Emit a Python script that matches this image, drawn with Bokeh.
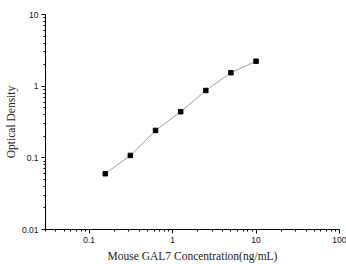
from bokeh.plotting import figure
from bokeh.models import FixedTicker, Range1d
from bokeh.embed import file_html
from bokeh.resources import INLINE

# data
conc = [0.156, 0.312, 0.625, 1.25, 2.5, 5, 10]
od = [0.060, 0.108, 0.241, 0.44, 0.87, 1.54, 2.23]

x_ticks = [0.1, 1, 10, 100]
x_labels = ["0.1", "1", "10", "100"]
y_ticks = [0.01, 0.1, 1, 10]
y_labels = ["0.01", "0.1", "1", "10"]

x_title = "Mouse GAL7 Concentration(ng/mL)"
y_title = "Optical Density"

def minors(lo_exp, hi_exp):
    return [m * 10.0 ** e for e in range(lo_exp, hi_exp) for m in range(2, 10)]

p = figure(width=346, height=264, x_axis_type="log", y_axis_type="log",
           x_range=Range1d(0.03, 100), y_range=Range1d(0.01, 10),
           output_backend="svg", toolbar_location=None,
           min_border_left=45, min_border_right=7, min_border_top=14,
           min_border_bottom=35)
p.outline_line_color = None
p.xgrid.visible = False
p.ygrid.visible = False
p.background_fill_color = "white"
p.border_fill_color = "white"

p.line(conc, od, line_color="#a0a0a0", line_width=1)
p.scatter(conc, od, marker="square", size=4.5, fill_color="black", line_color="black")

p.xaxis.ticker = FixedTicker(ticks=x_ticks, minor_ticks=minors(-2, 2))
p.yaxis.ticker = FixedTicker(ticks=y_ticks, minor_ticks=minors(-2, 1))
p.xaxis.major_label_overrides = {t: l for t, l in zip(x_ticks, x_labels)}
p.yaxis.major_label_overrides = {t: l for t, l in zip(y_ticks, y_labels)}

for ax in (p.xaxis, p.yaxis):
    ax.axis_line_color = "black"
    ax.axis_line_width = 1
    ax.major_tick_line_color = "black"
    ax.minor_tick_line_color = "black"
    ax.major_tick_in = 0
    ax.major_tick_out = 4
    ax.minor_tick_in = 0
    ax.minor_tick_out = 2
    ax.major_label_text_font = "Liberation Sans"
    ax.major_label_text_font_size = "8.5px"
    ax.major_label_text_color = "#111111"
    ax.axis_label_text_font = "Liberation Serif"
    ax.axis_label_text_font_size = "11.5px"
    ax.axis_label_text_font_style = "normal"
    ax.axis_label_text_color = "#222222"

p.xaxis.axis_label = x_title
p.yaxis.axis_label = y_title
p.xaxis.major_label_standoff = 3
p.xaxis.axis_label_standoff = 4
p.yaxis.major_label_standoff = 3
p.yaxis.axis_label_standoff = 2

open("out.html", "w").write(file_html(p, INLINE))
